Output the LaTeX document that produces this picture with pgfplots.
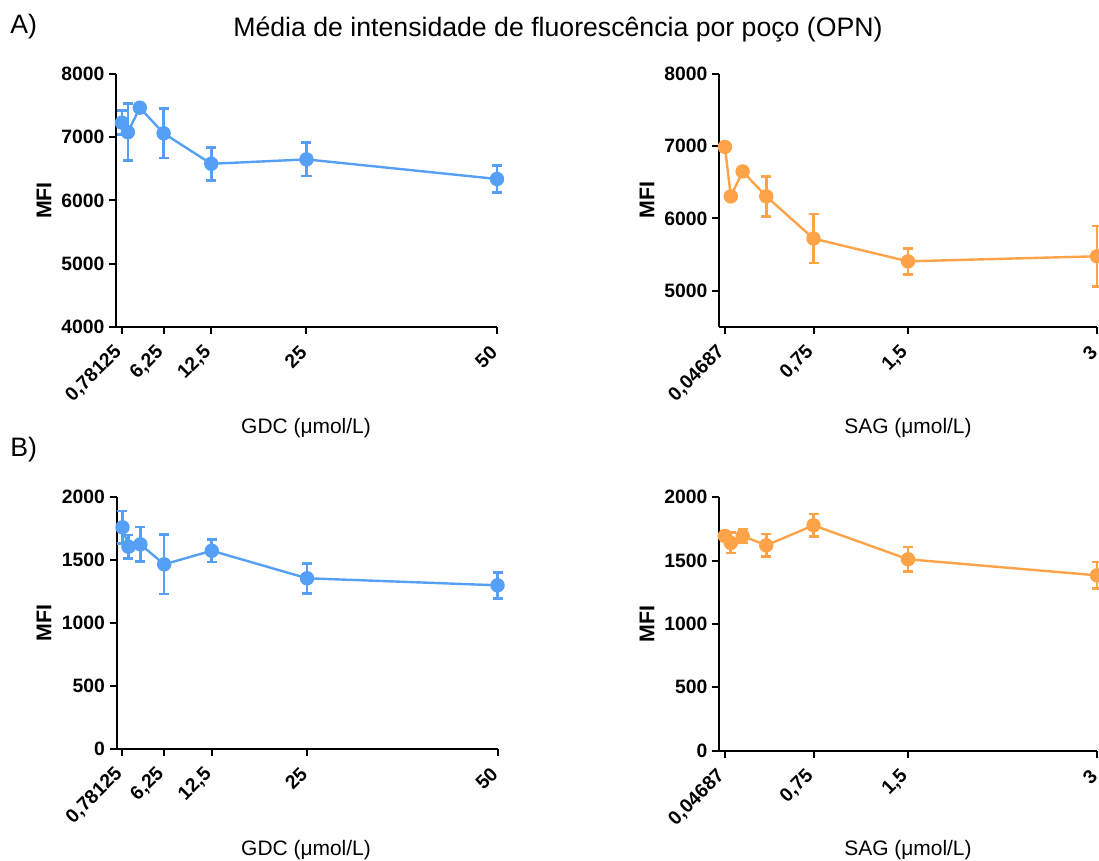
\documentclass[border=0pt]{standalone}
\usepackage{fontspec}
\setmainfont{Liberation Sans}
\usepackage{pgfplots}
\pgfplotsset{compat=1.18}

\definecolor{gdc}{RGB}{85,160,246}
\definecolor{sag}{RGB}{255,163,72}

% GDC / SAG concentrations (umol/L), mean MFI, error
\pgfplotstableread{
x y e
0.78125 7230 190
1.5625 7080 450
3.125 7467 20
6.25 7062 390
12.5 6580 260
25 6650 265
50 6340 215
}\gdcA
\pgfplotstableread{
x y e
0.046875 6990 0
0.09375 6305 0
0.1875 6650 60
0.375 6305 275
0.75 5720 340
1.5 5405 180
3 5475 420
}\sagA
\pgfplotstableread{
x y e
0.78125 1761 130
1.5625 1607 93
3.125 1626 137
6.25 1467 237
12.5 1575 90
25 1356 120
50 1300 103
}\gdcB
\pgfplotstableread{
x y e
0.046875 1695 40
0.09375 1640 80
0.1875 1695 55
0.375 1621 90
0.75 1779 90
1.5 1511 98
3 1384 106
}\sagB

\pgfplotsset{
  prism/.style={
    scale only axis, anchor=south west, clip=false,
    axis x line*=bottom, axis y line*=left,
    axis line style={line width=1.5pt},
    every tick/.style={line width=1.5pt, black},
    major tick length=5.25pt,
    tick align=outside,
    ticklabel style={font=\fontsize{14.5}{14.5}\selectfont\bfseries},
    /pgf/number format/assume math mode=true,
    /pgf/number format/1000 sep={},
    xticklabel style={rotate=45, anchor=east},
    xticklabel shift=9pt,
  },
  gdcaxis/.style={prism, width=285.75pt, xmin=0, xmax=50,
    xtick={0.78125,6.25,12.5,25,50},
    xticklabels={{0,78125},{6,25},{12,5},25,50}},
  sagaxis/.style={prism, width=283.5pt, xmin=0, xmax=3,
    xtick={0.046875,0.75,1.5,3},
    xticklabels={{0,04687},{0,75},{1,5},3}},
  series/.style={color=#1, line width=1.8pt, mark=*, mark size=4.5pt,
    mark options={fill=#1},
    error bars/.cd, y dir=both, y explicit, error mark=|,
    error bar style={line width=2pt, #1},
    error mark options={mark size=3.75pt, line width=2pt, #1}},
}

\begin{document}
\begin{tikzpicture}
\begin{axis}[gdcaxis, at={(87pt,399.75pt)}, height=189.75pt,
  ymin=4000, ymax=8000, ytick={4000,5000,6000,7000,8000}]
\addplot[series=gdc] table[x=x, y=y, y error=e] {\gdcA};
\end{axis}
\begin{axis}[sagaxis, at={(539.25pt,400pt)}, height=189.5pt,
  ymin=4500, ymax=8000, ytick={5000,6000,7000,8000}]
\addplot[series=sag] table[x=x, y=y, y error=e] {\sagA};
\end{axis}
\begin{axis}[gdcaxis, at={(87.4pt,83.5pt)}, height=188.5pt,
  ymin=0, ymax=2000, ytick={0,500,1000,1500,2000}]
\addplot[series=gdc] table[x=x, y=y, y error=e] {\gdcB};
\end{axis}
\begin{axis}[sagaxis, at={(539.25pt,82pt)}, height=190pt,
  ymin=0, ymax=2000, ytick={0,500,1000,1500,2000}]
\addplot[series=sag] table[x=x, y=y, y error=e] {\sagB};
\end{axis}

\begin{scope}[x=0.75pt, y=0.75pt]
  \node[font=\fontsize{20}{20}\selectfont] at (558,830)
    {Média de intensidade de fluorescência por poço (OPN)};
  \node[anchor=west, font=\fontsize{20}{20}\selectfont, inner sep=0] at (10,833) {A)};
  \node[anchor=west, font=\fontsize{20}{20}\selectfont, inner sep=0] at (10,410) {B)};
  \foreach \yy in {432,10} {
    \node[font=\fontsize{15.7}{15.7}\selectfont] at (306,\yy) {GDC (μmol/L)};
    \node[font=\fontsize{15.7}{15.7}\selectfont] at (908,\yy) {SAG (μmol/L)};
  }
  \foreach \xx/\yy in {44/659.5, 44/237, 647/659.7, 647/236} {
    \node[rotate=90, font=\fontsize{16}{16}\selectfont\bfseries] at (\xx,\yy) {MFI};
  }
  \pgfresetboundingbox
  \path[use as bounding box] (0,0) rectangle (1099,860);
\end{scope}
\end{tikzpicture}
\end{document}
